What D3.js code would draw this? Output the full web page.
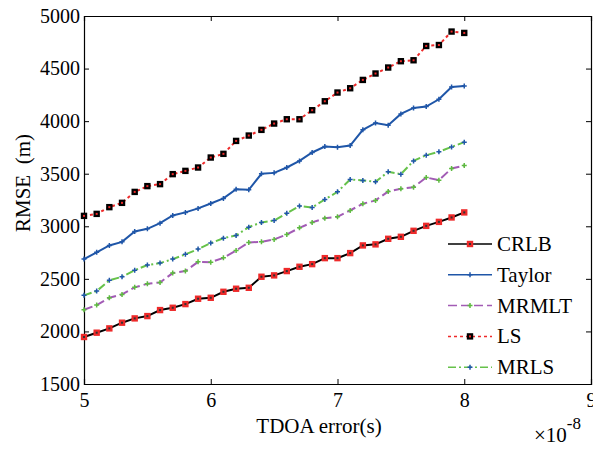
<!DOCTYPE html>
<html lang="en">
<head>
<meta charset="UTF-8">
<title>RMSE vs TDOA error</title>
<style>
  body { margin: 0; background: #fff; }
  svg text { font-family: "Liberation Serif", "Times New Roman", "DejaVu Serif", serif; fill: #000; }
  .tick text { font-size: 20px; }
  .axis-label { font-size: 21px; }
  .legend text { font-size: 21px; }
</style>
</head>
<body>
<script src="https://d3js.org/d3.v7.min.js"></script>
<script>
// TDOA error values (x 1e-8 s)
const tdoa = d3.range(31).map(i => +(5 + i * 0.1).toFixed(1));

const crlb = [1947, 1988, 2029, 2083, 2124, 2146, 2203, 2225, 2260, 2311, 2320,
  2377, 2406, 2415, 2520, 2533, 2574, 2615, 2640, 2697, 2697,
  2745, 2818, 2828, 2881, 2900, 2957, 3004, 3042, 3084, 3132];

const taylor = [2688, 2752, 2818, 2852, 2951, 2976, 3030, 3103, 3132, 3170, 3217,
  3265, 3353, 3347, 3499, 3508, 3559, 3622, 3702, 3759, 3752,
  3768, 3917, 3983, 3961, 4069, 4126, 4139, 4208, 4325, 4335];

const mrmlt = [2206, 2251, 2320, 2352, 2419, 2453, 2466, 2555, 2574, 2662, 2659,
  2700, 2770, 2846, 2852, 2875, 2922, 2985, 3037, 3077, 3090,
  3151, 3214, 3246, 3331, 3356, 3372, 3464, 3439, 3550, 3578];

const ls = [3099, 3118, 3182, 3223, 3327, 3382, 3401, 3496, 3527, 3559, 3654,
  3689, 3812, 3863, 3917, 3977, 4018, 4018, 4104, 4189, 4272,
  4313, 4392, 4453, 4510, 4570, 4579, 4715, 4724, 4852, 4839];

const mrls = [2343, 2384, 2486, 2520, 2583, 2631, 2650, 2688, 2733, 2783, 2840,
  2887, 2913, 2992, 3037, 3055, 3125, 3192, 3179, 3255, 3328,
  3445, 3436, 3423, 3518, 3496, 3622, 3676, 3708, 3755, 3800];

const xTicks = [5, 6, 7, 8, 9];
const yTicks = [1500, 2000, 2500, 3000, 3500, 4000, 4500, 5000];

const series = [
  { name: "CRLB", values: crlb, color: "#000000", dash: null, marker: "square", mColor: "#ee2a2a" },
  { name: "Taylor", values: taylor, color: "#1f56a8", dash: null, marker: "plus", mColor: "#1f56a8" },
  { name: "MRMLT", values: mrmlt, color: "#a25bb5", dash: "9,4", marker: "plus", mColor: "#5dbb3f" },
  { name: "LS", values: ls, color: "#ee2a2a", dash: "3,3", marker: "square", mColor: "#000000" },
  { name: "MRLS", values: mrls, color: "#66c24a", dash: "8,3,2,3", marker: "plus", mColor: "#1f56a8" }
];

const W = 593, H = 450;
const margin = { left: 84, top: 16, right: 2, bottom: 66 };
const iw = W - margin.left - margin.right;
const ih = H - margin.top - margin.bottom;

const svg = d3.select("body").append("svg")
  .attr("width", W)
  .attr("height", H);

const g = svg.append("g")
  .attr("transform", `translate(${margin.left},${margin.top})`);

const x = d3.scaleLinear().domain([5, 9]).range([0, iw]);
const y = d3.scaleLinear().domain([1500, 5000]).range([ih, 0]);

// axes, ticks pointing inward on all four sides
g.append("g")
  .attr("transform", `translate(0,${ih})`)
  .call(d3.axisBottom(x).tickValues(xTicks).tickSize(-5).tickPadding(9).tickFormat(d3.format("d")));
g.append("g")
  .call(d3.axisTop(x).tickValues(xTicks).tickSize(-5).tickFormat(""));
g.append("g")
  .call(d3.axisLeft(y).tickValues(yTicks).tickSize(-5).tickPadding(4).tickFormat(d3.format("d")));
g.append("g")
  .attr("transform", `translate(${iw},0)`)
  .call(d3.axisRight(y).tickValues(yTicks).tickSize(-5).tickFormat(""));

g.selectAll("g").attr("font-family", null).attr("font-size", null);
g.selectAll(".domain").attr("stroke", "#000").attr("stroke-width", 1.2);
g.selectAll(".tick line").attr("stroke", "#000");

const line = d3.line()
  .x((d, i) => x(tdoa[i]))
  .y(d => y(d));

function drawMarker(sel, s, cx, cy) {
  if (s.marker === "square") {
    sel.append("rect")
      .attr("x", cx - 3.2).attr("y", cy - 3.2)
      .attr("width", 6.4).attr("height", 6.4)
      .attr("fill", s.mColor);
    sel.append("rect")
      .attr("x", cx - 1).attr("y", cy - 1)
      .attr("width", 2).attr("height", 2)
      .attr("fill", s.name === "CRLB" ? "#333" : "#ee2a2a");
  } else {
    sel.append("path")
      .attr("d", `M${cx - 2.5},${cy}H${cx + 2.5}M${cx},${cy - 2.5}V${cy + 2.5}`)
      .attr("stroke", s.mColor)
      .attr("stroke-width", 1.5);
  }
}

series.forEach(s => {
  g.append("path")
    .datum(s.values)
    .attr("fill", "none")
    .attr("stroke", s.color)
    .attr("stroke-width", 2)
    .attr("stroke-dasharray", s.dash)
    .attr("d", line);
  const mg = g.append("g");
  s.values.forEach((v, i) => drawMarker(mg, s, x(tdoa[i]), y(v)));
});

// axis labels
svg.append("text")
  .attr("class", "axis-label")
  .attr("x", 319).attr("y", 433)
  .attr("text-anchor", "middle")
  .text("TDOA error(s)");

svg.append("text")
  .attr("class", "axis-label")
  .attr("transform", "translate(30,183) rotate(-90)")
  .attr("text-anchor", "middle")
  .text("RMSE\u00a0\u00a0(m)");

const exp = svg.append("text")
  .attr("class", "axis-label")
  .attr("x", 534).attr("y", 442);
exp.append("tspan").text("\u00d710");
exp.append("tspan").attr("dy", -13).attr("font-size", 17).text("-8");

// legend
const legend = svg.append("g").attr("class", "legend");
series.forEach((s, i) => {
  const ly = 244 + i * 30.8;
  const row = legend.append("g");
  row.append("line")
    .attr("x1", 448).attr("x2", 492)
    .attr("y1", ly).attr("y2", ly)
    .attr("stroke", s.color)
    .attr("stroke-width", 1.5)
    .attr("stroke-dasharray", s.dash);
  drawMarker(row, s, 470, ly);
  row.append("text")
    .attr("x", 497).attr("y", ly + 7)
    .text(s.name);
});
</script>
</body>
</html>
